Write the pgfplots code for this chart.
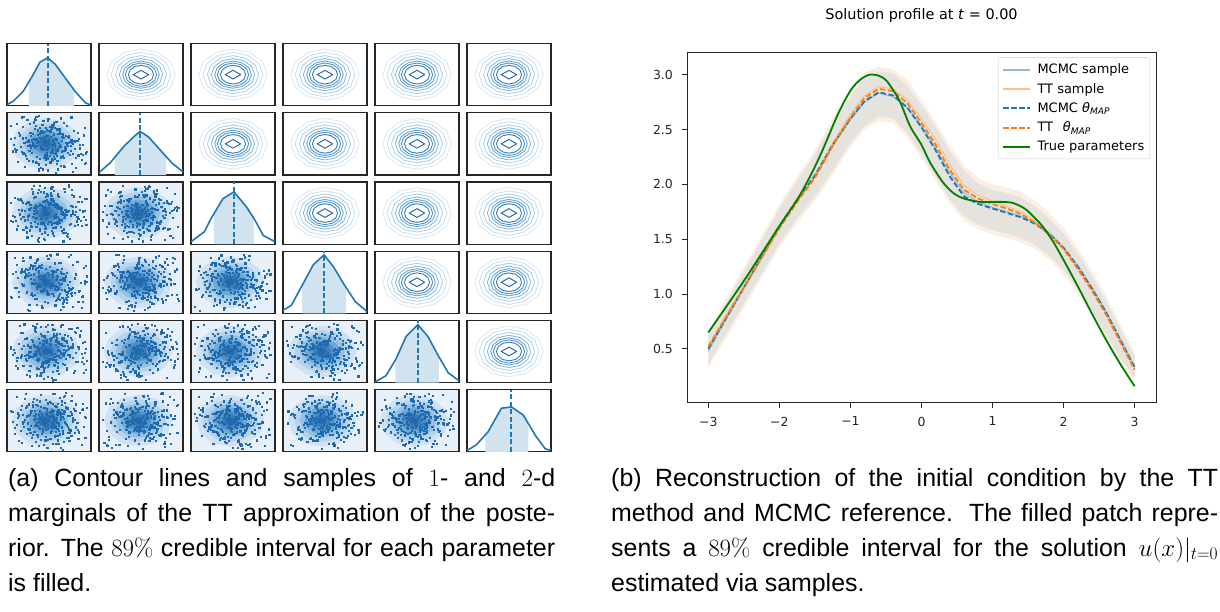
\RequirePackage{fix-cm}
\documentclass[border=0pt]{standalone}
\usepackage[no-math]{fontspec}
\setmainfont{Liberation Sans}
\newfontfamily\dejavu{DejaVu Sans}
\usepackage{pgfplots}
\usepackage{pgfplotstable}
\pgfplotsset{compat=1.18}

\definecolor{C0}{HTML}{1F77B4}
\definecolor{C1}{HTML}{FF7F0E}
\definecolor{C2}{HTML}{008000}
\definecolor{C0fill}{HTML}{D2E3F0}
\definecolor{C0lt}{HTML}{8FBBD9}
\definecolor{C1lt}{HTML}{FFBF86}
\definecolor{Frame}{HTML}{262626}
\definecolor{BandG}{HTML}{E6E2DD}
\definecolor{BandO}{HTML}{FCEEE2}
\definecolor{LegEdge}{HTML}{CCCCCC}
% contour line levels, outer to inner
\definecolor{L1}{HTML}{DCE9F6}
\definecolor{L2}{HTML}{CBDFF1}
\definecolor{L3}{HTML}{B2D2EA}
\definecolor{L4}{HTML}{8CBDE0}
\definecolor{L5}{HTML}{66A6D4}
\definecolor{L6}{HTML}{4A90C7}
\definecolor{L7}{HTML}{347CBB}
\definecolor{L8}{HTML}{1D5EA6}
% filled levels
\definecolor{F0}{HTML}{E8F1FA}
\definecolor{F1}{HTML}{D0E2F2}
\definecolor{F2}{HTML}{B5D4EB}
\definecolor{F3}{HTML}{94C1E2}
\definecolor{F4}{HTML}{6FA9D6}
\definecolor{F5}{HTML}{4F92C8}
\definecolor{F6}{HTML}{3A7DBB}
\definecolor{F7}{HTML}{2868AA}
\definecolor{Dot}{HTML}{1F6AAE}

% unit contour polygon and diamond
\pgfplotstableread{
x y
1 0
0.866 0.5
0.5 0.866
0 1
-0.5 0.866
-0.866 0.5
-1 0
-0.866 -0.5
-0.5 -0.866
0 -1
0.5 -0.866
0.866 -0.5
1 0
}\ring
\pgfplotstableread{
x y
1 0
0 1
-1 0
0 -1
1 0
}\diam

% posterior samples, one column per parameter
\pgfplotstableread{
p1 p2 p3 p4 p5 p6
0.12 -0.85 1.34 -0.27 0.66 -1.12
-1.45 0.38 -0.21 0.95 -0.58 0.44
0.77 1.21 -0.93 -1.66 0.05 0.83
-0.34 -0.12 0.58 0.31 1.47 -0.29
1.92 -1.37 0.14 0.72 -0.96 1.58
-0.68 0.59 -1.71 -0.45 0.23 -0.74
0.41 -0.26 0.87 1.83 -1.34 0.16
-2.15 1.04 0.36 -0.88 0.71 -1.95
1.08 -0.63 -0.47 0.19 -0.15 0.92
-0.09 2.21 1.12 -1.23 1.89 -0.41
0.55 -1.88 -1.05 0.64 -0.42 0.27
-1.16 0.07 2.03 -0.06 0.98 1.31
2.47 0.83 -0.32 1.41 -2.08 -0.57
-0.52 -0.44 0.69 -2.31 0.37 0.68
0.29 1.66 -1.42 0.53 -0.79 -2.24
-1.73 -0.97 0.21 1.07 1.25 0.09
0.93 0.32 -0.68 -0.71 -0.23 1.87
-0.21 -1.52 1.57 0.25 2.36 -0.86
1.36 0.71 -2.26 -1.39 0.54 0.51
-0.87 -0.18 0.02 2.12 -1.61 -1.38
0.04 1.29 0.95 -0.36 0.12 0.35
-2.62 -0.71 -0.81 0.82 -0.35 -0.13
1.63 0.16 1.78 -1.02 1.12 2.41
-0.43 -2.44 -0.16 0.46 -1.07 -0.95
0.66 0.94 0.43 -0.58 0.81 0.74
-1.29 -0.33 -1.27 1.64 -0.04 -0.51
0.18 1.83 2.41 -0.17 -2.53 1.06
2.08 -1.09 -0.58 -1.84 0.42 -1.71
-0.61 0.46 0.77 0.38 1.68 0.22
1.21 -0.55 -1.93 -0.94 -0.71 -0.33
-1.94 2.57 0.28 1.26 0.29 1.45
0.37 -0.04 -0.39 -0.31 -1.29 -0.68
-0.15 -1.21 1.16 2.54 0.85 0.57
1.49 0.22 -1.11 0.07 -0.48 -1.17
-1.02 1.48 0.63 -1.57 2.04 0.98
0.83 -2.09 -0.04 0.91 -0.17 -2.63
-0.28 0.67 -2.58 -0.69 1.36 0.31
2.71 -0.76 1.41 0.58 -0.87 1.22
-1.51 0.28 -0.67 -2.67 0.61 -0.24
0.58 -1.64 0.52 1.19 -1.83 0.63
-0.79 0.89 1.96 -0.42 0.07 -1.53
1.15 -0.31 -0.29 0.33 1.01 1.74
-2.33 1.93 -1.56 1.71 -0.63 -0.38
0.23 -0.67 0.84 -1.11 2.61 0.86
-0.47 1.12 -0.89 0.14 -1.18 -0.79
1.71 -2.71 0.11 -0.53 0.33 0.13
-1.11 0.53 2.66 0.77 -0.29 2.12
0.49 -0.86 -1.33 -1.76 1.54 -1.06
-0.05 2.39 0.49 2.28 -0.94 0.46
1.33 -0.19 -2.01 -0.23 0.19 -0.61
-1.62 -1.43 1.03 0.67 -2.21 1.39
0.71 0.13 -0.73 -1.29 0.78 -0.19
-0.95 1.71 0.37 1.33 -0.41 -2.05
2.22 -0.42 1.61 -0.81 1.39 0.77
-0.33 -1.03 -1.19 0.47 -1.56 0.26
0.97 0.77 0.08 -2.02 0.52 -1.27
-2.01 -0.24 -0.51 0.99 1.79 1.03
0.14 1.37 1.26 -0.12 -0.08 -0.45
-0.74 -1.96 -2.37 1.55 -0.77 0.59
1.58 0.42 0.67 -0.65 2.19 -1.44
-0.19 -0.58 -0.11 0.26 -1.02 0.18
0.62 1.01 1.88 -1.48 0.46 1.61
-1.38 -0.13 -1.61 2.37 -2.39 -0.89
2.56 1.58 0.23 0.11 0.94 0.39
-0.58 -2.28 -0.97 -0.86 -0.31 -1.82
0.35 0.24 2.19 1.13 1.61 0.95
-1.84 -0.91 -0.33 -0.29 -1.41 -0.11
1.04 2.03 -1.48 0.84 0.15 2.33
-0.11 -0.36 0.98 -1.95 -0.66 -0.72
0.81 -1.29 -0.62 1.92 2.43 0.53
-2.44 0.62 1.47 -0.49 -0.12 -1.23
1.27 -0.07 -2.19 -1.19 1.07 1.19
-0.39 1.17 0.31 0.58 -1.71 -0.34
0.08 -1.77 -0.85 2.69 0.63 0.81
-1.23 0.35 2.32 -1.04 -0.53 -1.62
1.82 -0.49 -0.14 0.39 1.93 0.07
-0.91 2.64 -1.29 -1.62 -0.21 1.52
0.45 -0.98 0.73 1.02 -2.72 -0.53
-0.24 0.81 -0.44 -0.33 0.38 0.69
2.34 -1.56 1.09 -2.45 -0.99 -2.31
-1.57 0.19 -1.84 0.69 1.28 0.42
0.69 -0.29 0.56 -0.04 -0.38 -0.97
-0.64 1.54 -0.26 1.48 0.86 1.88
1.11 -2.19 2.08 -0.76 -1.24 -0.15
-2.76 0.49 -0.71 -1.41 0.27 0.98
0.26 -0.82 1.39 0.87 2.15 -0.42
-0.83 1.31 -1.02 -0.19 -0.89 -1.41
1.67 0.05 0.19 1.68 0.56 0.24
-0.36 -1.32 -2.47 -0.63 -1.93 1.27
0.52 2.12 0.91 0.28 1.15 -2.19
-1.42 -0.64 0.44 -2.14 -0.46 0.61
0.92 0.98 -1.67 1.28 0.71 -0.64
-0.07 -2.53 1.72 -0.97 -1.47 1.69
2.01 0.31 -0.36 2.01 2.28 -0.22
-1.06 -0.15 -0.09 -0.14 -0.19 -1.09
0.33 1.86 1.14 -1.33 1.44 0.34
-1.68 -1.15 -1.37 0.56 -0.74 2.58
1.41 0.58 2.53 -0.84 0.31 -0.83
-0.55 -0.41 -0.55 1.39 -2.02 0.11
0.76 1.43 0.65 -0.25 1.72 -1.31
-2.21 -1.71 -1.21 0.44 -0.58 0.72
1.19 0.09 0.32 -1.53 0.09 1.36
-0.12 0.74 -2.11 0.93 2.57 -0.49
0.61 -0.47 1.69 -0.56 -1.11 -1.88
-0.98 2.29 -0.42 1.85 0.49 0.21
2.39 -1.01 0.16 -1.87 -0.61 1.11
-0.31 0.41 -1.53 0.16 1.03 -0.58
0.17 -1.46 1.23 -0.39 -0.26 0.48
-1.34 1.06 0.82 2.42 -1.36 -1.14
1.55 -0.21 -0.99 -1.14 1.31 0.88
-0.71 -2.36 2.27 0.61 0.04 -2.43
0.44 0.52 -0.23 -0.71 -0.83 1.46
-1.89 1.62 1.01 1.04 1.84 -0.27
1.01 -0.69 -2.72 -2.38 -0.44 0.66
-0.46 0.27 0.47 0.21 0.69 -1.01
2.63 -1.81 -0.65 1.56 -1.77 0.29
-1.19 0.96 1.85 -1.27 2.49 1.83
0.21 -0.11 -1.08 0.74 -0.11 -0.71
-0.88 -1.25 0.59 -0.47 -2.29 2.05
1.28 1.74 -0.19 -1.69 0.89 -1.66
}\samp

% credible band as closed outlines: upper edge left to right, lower edge back
\pgfplotstableread{
x y
-3.0 0.66
-2.75 0.96
-2.5 1.24
-2.25 1.53
-2.0 1.82
-1.75 2.07
-1.5 2.31
-1.25 2.60
-1.0 2.85
-0.8 3.02
-0.6 3.07
-0.4 3.05
-0.2 2.95
0.0 2.77
0.2 2.57
0.4 2.35
0.6 2.17
0.8 2.06
1.0 2.00
1.2 1.97
1.4 1.93
1.6 1.85
1.8 1.74
2.0 1.60
2.2 1.42
2.4 1.21
2.6 0.98
2.8 0.72
3.0 0.46
3.0 0.21
2.8 0.38
2.6 0.59
2.4 0.81
2.2 1.01
2.0 1.18
1.8 1.31
1.6 1.41
1.4 1.47
1.2 1.51
1.0 1.54
0.8 1.59
0.6 1.67
0.4 1.82
0.2 2.03
0.0 2.24
-0.2 2.43
-0.4 2.56
-0.6 2.58
-0.8 2.50
-1.0 2.34
-1.25 2.09
-1.5 1.85
-1.75 1.65
-2.0 1.42
-2.25 1.15
-2.5 0.87
-2.75 0.60
-3.0 0.33
}\bandO
\pgfplotstableread{
x y
-3.0 0.62
-2.75 0.92
-2.5 1.20
-2.25 1.49
-2.0 1.78
-1.75 2.03
-1.5 2.27
-1.25 2.55
-1.0 2.80
-0.8 2.97
-0.6 3.03
-0.4 3.01
-0.2 2.90
0.0 2.72
0.2 2.52
0.4 2.30
0.6 2.12
0.8 2.01
1.0 1.95
1.2 1.92
1.4 1.88
1.6 1.80
1.8 1.69
2.0 1.55
2.2 1.37
2.4 1.16
2.6 0.93
2.8 0.68
3.0 0.43
3.0 0.24
2.8 0.42
2.6 0.63
2.4 0.85
2.2 1.05
2.0 1.22
1.8 1.35
1.6 1.45
1.4 1.51
1.2 1.55
1.0 1.58
0.8 1.63
0.6 1.71
0.4 1.86
0.2 2.07
0.0 2.28
-0.2 2.47
-0.4 2.60
-0.6 2.62
-0.8 2.53
-1.0 2.38
-1.25 2.13
-1.5 1.89
-1.75 1.69
-2.0 1.46
-2.25 1.19
-2.5 0.91
-2.75 0.64
-3.0 0.36
}\bandG

\pgfplotstableread{
x mcmc tt smc stt
-3.0 0.50 0.52 0.48 0.53
-2.75 0.78 0.79 0.77 0.81
-2.5 1.06 1.06 1.05 1.08
-2.25 1.34 1.33 1.33 1.36
-2.0 1.62 1.60 1.61 1.63
-1.75 1.86 1.84 1.85 1.87
-1.5 2.08 2.06 2.07 2.09
-1.25 2.36 2.35 2.35 2.38
-1.0 2.60 2.61 2.59 2.64
-0.8 2.76 2.79 2.75 2.81
-0.6 2.84 2.87 2.83 2.89
-0.4 2.81 2.85 2.80 2.87
-0.2 2.70 2.74 2.70 2.77
0.0 2.52 2.56 2.53 2.60
0.2 2.31 2.36 2.33 2.41
0.4 2.07 2.13 2.10 2.18
0.6 1.89 1.95 1.92 1.99
0.8 1.82 1.87 1.84 1.90
1.0 1.78 1.82 1.79 1.85
1.2 1.74 1.78 1.75 1.80
1.4 1.70 1.73 1.71 1.75
1.6 1.64 1.65 1.65 1.67
1.8 1.55 1.54 1.56 1.56
2.0 1.42 1.41 1.43 1.43
2.2 1.25 1.23 1.26 1.25
2.4 1.05 1.03 1.06 1.05
2.6 0.83 0.81 0.84 0.83
2.8 0.58 0.56 0.59 0.58
3.0 0.33 0.31 0.34 0.33
}\maps

\pgfplotstableread{
x y
-3.0 0.65
-2.5 1.12
-2.0 1.62
-1.75 1.86
-1.57 2.07
-1.4 2.30
-1.19 2.62
-1.05 2.80
-0.96 2.89
-0.85 2.96
-0.73 3.00
-0.6 2.99
-0.5 2.95
-0.4 2.86
-0.3 2.75
-0.16 2.53
0.0 2.36
0.12 2.20
0.3 2.02
0.45 1.92
0.6 1.87
0.82 1.84
1.0 1.84
1.15 1.84
1.29 1.83
1.45 1.78
1.57 1.71
1.7 1.62
1.85 1.48
2.0 1.31
2.2 1.07
2.4 0.82
2.6 0.58
2.8 0.36
3.0 0.16
}\truth

\pgfplotsset{
  cellax/.style={
    width=84bp, height=62.3bp, scale only axis, anchor=north west,
    xmin=-3, xmax=3, ticks=none,
    axis line style={draw=Frame, line width=1.2bp},
  },
}

\newcommand{\upcell}[2]{%
  \begin{axis}[cellax, at={(#1bp,-#2bp)}, ymin=-3, ymax=3]
    \addplot[L1, line width=0.9bp] table[x expr=2.45*\thisrow{x}, y expr=2.45*\thisrow{y}] {\ring};
    \addplot[L2, line width=0.9bp] table[x expr=2.14*\thisrow{x}, y expr=2.14*\thisrow{y}] {\ring};
    \addplot[L3, line width=0.9bp] table[x expr=1.83*\thisrow{x}, y expr=1.83*\thisrow{y}] {\ring};
    \addplot[L4, line width=0.9bp] table[x expr=1.55*\thisrow{x}, y expr=1.55*\thisrow{y}] {\ring};
    \addplot[L5, line width=0.9bp] table[x expr=1.31*\thisrow{x}, y expr=1.31*\thisrow{y}] {\ring};
    \addplot[L6, line width=0.9bp] table[x expr=1.12*\thisrow{x}, y expr=1.12*\thisrow{y}] {\ring};
    \addplot[L7, line width=0.9bp] table[x expr=0.90*\thisrow{x}, y expr=0.90*\thisrow{y}] {\ring};
    \addplot[L8, line width=0.9bp] table[x expr=0.55*\thisrow{x}, y expr=0.42*\thisrow{y}] {\diam};
  \end{axis}}

\newcommand{\lowcell}[4]{%
  \begin{axis}[cellax, at={(#1bp,-#2bp)}, ymin=-3, ymax=3,
      axis background/.style={fill=F0}]
    \addplot[fill=F1, draw=none] table[x expr=2.45*\thisrow{x}-0.2, y expr=2.5*\thisrow{y}] {\ring};
    \addplot[fill=F2, draw=none] table[x expr=2.0*\thisrow{x}-0.2, y expr=2.05*\thisrow{y}] {\ring};
    \addplot[fill=F3, draw=none] table[x expr=1.6*\thisrow{x}-0.2, y expr=1.65*\thisrow{y}] {\ring};
    \addplot[fill=F4, draw=none] table[x expr=1.25*\thisrow{x}-0.2, y expr=1.3*\thisrow{y}] {\ring};
    \addplot[fill=F5, draw=none] table[x expr=0.9*\thisrow{x}-0.2, y expr=0.95*\thisrow{y}] {\ring};
    \addplot[fill=F6, draw=none] table[x expr=0.6*\thisrow{x}-0.2, y expr=0.62*\thisrow{y}] {\ring};
    \addplot[fill=F7, draw=none] table[x expr=0.3*\thisrow{x}-0.2, y expr=0.3*\thisrow{y}] {\ring};
    \addplot[only marks, color=Dot, mark=square*, mark size=0.6bp] table[x=p#3, y=p#4] {\samp};
    \addplot[only marks, color=Dot, mark=square*, mark size=0.6bp] table[x=p#4, y=p#3] {\samp};
  \end{axis}}

% #1 left, #2 top, #3 density points, #4 filled 89% region, #5 mode
\newcommand{\diagcell}[5]{%
  \begin{axis}[cellax, at={(#1bp,-#2bp)}, ymin=0, ymax=1]
    \addplot[fill=C0fill, draw=none] coordinates {#4};
    \addplot[C0, line width=1.6bp] coordinates {#3};
    \addplot[C0, line width=1.7bp, dash pattern=on 5bp off 2.5bp] coordinates {(#5,0) (#5,1)};
  \end{axis}}

\begin{document}
\begin{tikzpicture}
\path[use as bounding box] (0bp,0bp) rectangle (1220bp,-612bp);

% ---- (a) pairwise marginals ----
\foreach \i in {1,...,6}{
  \foreach \j in {1,...,6}{
    \pgfmathsetmacro\cx{7+92*(\j-1)}
    \pgfmathsetmacro\cy{43.5+69.2*(\i-1)}
    \ifnum\i<\j \upcell{\cx}{\cy}\fi
    \ifnum\i>\j \lowcell{\cx}{\cy}{\j}{\i}\fi
  }
}
\diagcell{7}{43.5}{(-3,0.02)(-2.57,0.07)(-1.85,0.23)(-1.13,0.5)(-0.65,0.70)(-0.1,0.77)(0.43,0.67)(1.15,0.45)(1.87,0.23)(2.59,0.05)(3,0.01)}
  {(-1.44,0)(-1.44,0.384)(-1.13,0.5)(-0.65,0.70)(-0.1,0.77)(0.43,0.67)(1.15,0.45)(1.8,0.251)(1.8,0)}{-0.08}
\diagcell{99}{112.7}{(-3,0.04)(-2.22,0.19)(-1.26,0.45)(-0.54,0.61)(-0.06,0.70)(0.54,0.61)(1.38,0.40)(2.22,0.19)(3,0.05)}
  {(-1.86,0)(-1.86,0.29)(-1.26,0.45)(-0.54,0.61)(-0.06,0.70)(0.54,0.61)(1.38,0.40)(1.8,0.295)(1.8,0)}{-0.06}
\diagcell{191}{181.9}{(-3,0.04)(-2.04,0.20)(-1.6,0.40)(-0.72,0.73)(0.07,0.84)(0.96,0.60)(1.56,0.39)(2.16,0.14)(3,0.04)}
  {(-1.37,0)(-1.37,0.486)(-0.72,0.73)(0.07,0.84)(0.96,0.60)(1.49,0.415)(1.49,0)}{0.07}
\diagcell{283}{251.1}{(-3,0.05)(-2.4,0.13)(-1.56,0.48)(-0.84,0.78)(-0.07,0.94)(0.6,0.75)(1.32,0.48)(2.16,0.19)(3,0.03)}
  {(-1.63,0)(-1.63,0.451)(-1.56,0.48)(-0.84,0.78)(-0.07,0.94)(0.6,0.75)(1.32,0.48)(1.5,0.418)(1.5,0)}{-0.07}
\diagcell{375}{320.3}{(-3,0.01)(-2.22,0.11)(-1.5,0.38)(-0.78,0.74)(0.06,0.93)(0.78,0.74)(1.5,0.44)(2.22,0.16)(3,0.03)}
  {(-1.54,0)(-1.54,0.365)(-1.5,0.38)(-0.78,0.74)(0.06,0.93)(0.78,0.74)(1.5,0.44)(1.56,0.417)(1.56,0)}{0.06}
\diagcell{467}{389.5}{(-3,0.02)(-2.34,0.11)(-1.5,0.32)(-0.54,0.70)(0.18,0.72)(1.02,0.59)(1.86,0.27)(2.58,0.05)(3,0.02)}
  {(-1.68,0)(-1.68,0.275)(-1.5,0.32)(-0.54,0.70)(0.18,0.72)(1.02,0.59)(1.38,0.453)(1.38,0)}{0.16}

% ---- (b) solution profile ----
\node[anchor=base, font=\dejavu\fontsize{14.5}{17}\selectfont]
  at (921.5bp,-19.5bp) {Solution profile at \textit{t} = 0.00};

\begin{axis}[
  at={(687bp,-402.7bp)}, anchor=south west,
  width=469bp, height=350bp, scale only axis,
  xmin=-3.3, xmax=3.3, ymin=0.01, ymax=3.2,
  xtick={-3,-2,-1,0,1,2,3},
  xticklabels={−3,−2,−1,0,1,2,3},
  ytick={0.5,1,1.5,2,2.5,3},
  yticklabels={0.5,1.0,1.5,2.0,2.5,3.0},
  xtick pos=bottom, ytick pos=left,
  tick align=outside, major tick length=5bp,
  axis line style={draw=Frame, line width=1bp},
  tick style={draw=Frame, line width=1bp},
  tick label style={font=\dejavu\fontsize{12.5}{15}\selectfont, text=Frame},
  xticklabel style={anchor=north, inner sep=0pt, yshift=-9bp},
  yticklabel style={anchor=east, inner sep=0pt, xshift=-9bp},
  legend cell align=left,
  legend image code/.code={\draw[#1] (0bp,0bp) -- (27bp,0bp);},
  legend style={at={(1,1)}, anchor=north east, xshift=-6bp, yshift=-4.5bp,
    draw=LegEdge, rounded corners=2bp, fill=white,
    font=\dejavu\fontsize{13}{15.5}\selectfont,
    inner xsep=4bp, inner ysep=5bp, row sep=5bp,
    nodes={inner sep=1.5bp},
    /tikz/every odd column/.append style={column sep=5bp}},
]
  \addplot[fill=BandO, draw=none, forget plot] table[x=x, y=y] {\bandO};
  \addplot[fill=BandG, draw=none, forget plot] table[x=x, y=y] {\bandG};

  \addplot[C0lt, line width=1bp, forget plot] table[x=x, y=smc] {\maps};
  \addplot[C1lt, line width=1bp, forget plot] table[x=x, y=stt] {\maps};
  \addplot[C0, line width=1.8bp, dash pattern=on 5.5bp off 2.5bp, forget plot] table[x=x, y=mcmc] {\maps};
  \addplot[C1, line width=1.8bp, dash pattern=on 5.5bp off 2.5bp, forget plot] table[x=x, y=tt] {\maps};
  \addplot[C2, line width=1.8bp, smooth, forget plot] table[x=x, y=y] {\truth};

  \addlegendimage{C0lt, line width=2bp}
  \addlegendentry{MCMC sample}
  \addlegendimage{C1lt, line width=2bp}
  \addlegendentry{TT sample}
  \addlegendimage{C0, line width=1.8bp, dash pattern=on 5.5bp off 2.5bp}
  \addlegendentry{MCMC {\itshape θ\textsubscript{MAP}}}
  \addlegendimage{C1, line width=1.8bp, dash pattern=on 5.5bp off 2.5bp}
  \addlegendentry{TT\hspace{0.75em}{\itshape θ\textsubscript{MAP}}}
  \addlegendimage{C2, line width=1.8bp}
  \addlegendentry{True parameters}
\end{axis}

% ---- captions ----
\begin{scope}[every node/.style={anchor=base west, inner sep=0pt,
    font=\fontsize{25}{32}\selectfont}]
  \node at (8bp,-486bp)  {\makebox[547bp][s]{(a) Contour lines and samples of $1$- and $2$-d}};
  \node at (8bp,-521bp)  {\makebox[547bp][s]{marginals of the TT approximation of the poste-}};
  \node at (8bp,-556bp)  {\makebox[547bp][s]{rior. The $89\%$ credible interval for each parameter}};
  \node at (8bp,-591bp)  {is filled.};
  \node at (611bp,-486bp) {\makebox[607bp][s]{(b) Reconstruction of the initial condition by the TT}};
  \node at (611bp,-521bp) {\makebox[607bp][s]{method and MCMC reference. The filled patch repre-}};
  \node at (611bp,-556bp) {\makebox[607bp][s]{sents a $89\%$ credible interval for the solution $u(x)|_{t=0}$}};
  \node at (611bp,-591bp) {estimated via samples.};
\end{scope}
\end{tikzpicture}
\end{document}
